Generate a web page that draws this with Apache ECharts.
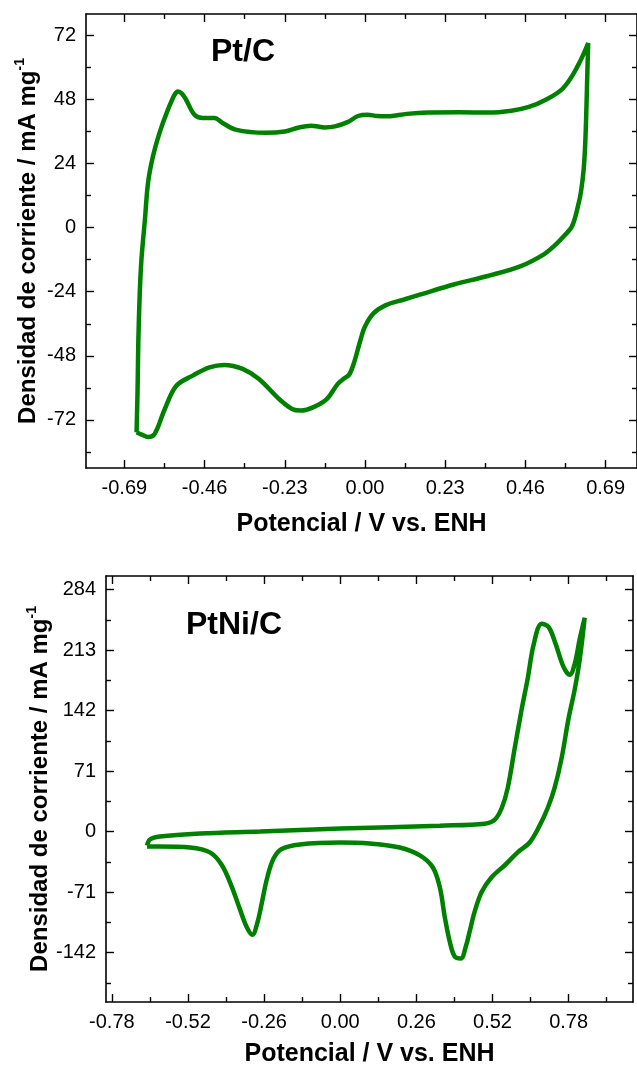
<!DOCTYPE html>
<html>
<head>
<meta charset="utf-8">
<script src="https://cdn.jsdelivr.net/npm/echarts@6/dist/echarts.min.js"></script>
<style>
html,body{margin:0;padding:0;background:#fff;}
#c{width:637px;height:1068px;}
</style>
</head>
<body>
<div id="c"></div>
<script>
// ---------- Pt/C (top panel) ----------
const ptcPotential = [-0.655,-0.652,-0.650,-0.646,-0.641,-0.631,-0.622,-0.608,-0.589,-0.565,-0.545,-0.536,-0.525,-0.513,-0.489,-0.465,-0.432,-0.408,-0.371,-0.286,-0.230,-0.190,-0.155,-0.115,-0.086,-0.050,-0.020,0.007,0.035,0.065,0.120,0.181,0.270,0.354,0.420,0.470,0.520,0.563,0.590,0.609,0.625,0.640,
  0.637,0.634,0.631,0.627,0.620,0.613,0.594,0.570,0.542,0.513,0.447,0.352,0.257,0.162,0.110,0.060,0.025,0.000,-0.015,-0.030,-0.045,-0.060,-0.078,-0.109,-0.146,-0.184,-0.209,-0.247,-0.304,-0.351,-0.403,-0.446,-0.494,-0.541,-0.574,-0.603,-0.622,-0.640,-0.655];
const ptcCurrent = [-76.6,-60,-42.9,-25,-11.9,3.1,16.9,26.7,35.6,44.2,50,51,50.2,47.9,42.3,41.1,41.1,39.2,36.7,35.5,36.0,37.5,38.2,37.5,37.9,39.5,41.8,42.3,41.8,41.7,42.6,43.1,43.2,43.1,43.8,45.2,48,51.6,56,60.3,64.5,69.1,
  55,40.4,30,21.7,14,9.3,0.6,-3.2,-6.9,-10.0,-14.4,-18.1,-21.2,-24.9,-27,-29,-32,-37,-43,-50,-55,-56.5,-58.5,-64.1,-67.1,-68.5,-67.9,-64.1,-56.7,-52.9,-51.4,-52.3,-55.4,-59.2,-67.9,-77.2,-78.4,-77.5,-76.6];
const ptcXTicks = [-0.69,-0.46,-0.23,0,0.23,0.46,0.69];
const ptcXMinor = [-0.575,-0.345,-0.115,0.115,0.345,0.575];
const ptcYTicks = [-72,-48,-24,0,24,48,72];
const ptcYMinor = [-84,-60,-36,-12,12,36,60];

// ---------- PtNi/C (bottom panel) ----------
const ptniPotential = [-0.660,-0.650,-0.616,-0.479,-0.274,0.000,0.340,0.494,0.528,0.552,0.572,0.596,0.620,0.640,0.661,0.688,0.712,0.736,0.763,0.784,0.801,0.818,0.835,
  0.818,0.801,0.780,0.756,0.732,0.709,0.681,0.647,0.606,0.562,0.517,0.483,0.459,0.442,0.429,0.412,0.391,0.374,0.357,0.340,0.316,0.272,0.203,0.101,0.000,-0.138,-0.200,-0.228,-0.250,-0.268,-0.283,-0.300,-0.320,-0.343,-0.370,-0.404,-0.445,-0.513,-0.616,-0.660];
const ptniCurrent = [-16.3,-9.3,-5.8,-2.3,0,3.5,7,9.3,14,28,51,98,144,179,220,244,240,220,193,184,197,226,251,
  202,167,133,86,51,28,7,-12.8,-24.4,-39.5,-53.5,-70.9,-94.2,-117.4,-134.9,-148.8,-146.5,-129,-100,-65.1,-41.9,-27.9,-18.6,-14,-12.8,-15.1,-20.5,-32,-55,-84,-107,-121,-111.6,-90.7,-65.1,-39.5,-24.4,-18.6,-17.4,-17.4];
const ptniXTicks = [-0.78,-0.52,-0.26,0,0.26,0.52,0.78];
const ptniXMinor = [-0.65,-0.39,-0.13,0.13,0.39,0.65,0.91];
const ptniYTicks = [-142,-71,0,71,142,213,284];
const ptniYMinor = [-177.5,-106.5,-35.5,35.5,106.5,177.5,248.5];

const xTitle = 'Potencial / V vs. ENH';
const yTitle = '{m|Densidad de corriente / mA mg}{s|-1}';
const labelTop = 'Pt/C';
const labelBottom = 'PtNi/C';

const FONT = '"Liberation Sans", Arial, sans-serif';
const GREEN = '#008000';

function pairs(xs, ys){ return xs.map((x,i)=>[x, ys[i]]); }

function makeAxes(grid, xmin, xmax, ymin, ymax, xMaj, xMin, yMaj, yMin, xGap, yGap){
  const line = {show:true, onZero:false, lineStyle:{color:'#000', width:1.6}};
  const noLine = {show:false, onZero:false};
  const tickMaj = vals => ({show:true, inside:true, length:8, customValues:vals, lineStyle:{color:'#000', width:1.4}});
  const tickMin = vals => ({show:true, inside:true, length:5, customValues:vals, lineStyle:{color:'#000', width:1.4}});
  const nameStyle = {fontFamily:FONT, fontSize:25, fontWeight:'bold', color:'#000'};
  const xs = [
    {gridIndex:grid, type:'value', min:xmin, max:xmax, position:'bottom', axisLine:line, axisTick:tickMaj(xMaj),
     axisLabel:{show:true, customValues:xMaj, formatter:v=>Number(v).toFixed(2), fontFamily:FONT, fontSize:20, color:'#000', margin:10},
     splitLine:{show:false}, name:xTitle, nameLocation:'middle', nameGap:xGap, nameMoveOverlap:false, nameTextStyle:nameStyle},
    {gridIndex:grid, type:'value', min:xmin, max:xmax, position:'bottom', axisLine:noLine, axisTick:tickMin(xMin), axisLabel:{show:false}, splitLine:{show:false}},
    {gridIndex:grid, type:'value', min:xmin, max:xmax, position:'top', axisLine:line, axisTick:tickMaj(xMaj), axisLabel:{show:false}, splitLine:{show:false}},
    {gridIndex:grid, type:'value', min:xmin, max:xmax, position:'top', axisLine:noLine, axisTick:tickMin(xMin), axisLabel:{show:false}, splitLine:{show:false}}
  ];
  const ys = [
    {gridIndex:grid, type:'value', min:ymin, max:ymax, position:'left', axisLine:line, axisTick:tickMaj(yMaj),
     axisLabel:{show:true, customValues:yMaj, formatter:v=>String(Math.round(v)), fontFamily:FONT, fontSize:20, color:'#000', margin:10},
     splitLine:{show:false}, name:yTitle, nameLocation:'middle', nameGap:yGap, nameMoveOverlap:false,
     nameTextStyle:{fontFamily:FONT, fontSize:25, fontWeight:'bold', color:'#000',
       rich:{m:{fontFamily:FONT, fontSize:24, fontWeight:'bold', color:'#000', lineHeight:30},
             s:{fontFamily:FONT, fontSize:14, fontWeight:'bold', color:'#000', verticalAlign:'top', lineHeight:15}}}},
    {gridIndex:grid, type:'value', min:ymin, max:ymax, position:'left', axisLine:noLine, axisTick:tickMin(yMin), axisLabel:{show:false}, splitLine:{show:false}},
    {gridIndex:grid, type:'value', min:ymin, max:ymax, position:'right', axisLine:line, axisTick:tickMaj(yMaj), axisLabel:{show:false}, splitLine:{show:false}},
    {gridIndex:grid, type:'value', min:ymin, max:ymax, position:'right', axisLine:noLine, axisTick:tickMin(yMin), axisLabel:{show:false}, splitLine:{show:false}}
  ];
  return {xs, ys};
}

const a0 = makeAxes(0, -0.80, 0.78, -90, 80, ptcXTicks, ptcXMinor, ptcYTicks, ptcYMinor, 44, 43);
const a1 = makeAxes(1, -0.80, 1.00, -200, 300, ptniXTicks, ptniXMinor, ptniYTicks, ptniYMinor, 40, 51);

const chart = echarts.init(document.getElementById('c'), null, {renderer:'canvas'});
chart.setOption({
  animation:false,
  backgroundColor:'#fff',
  grid:[
    {left:86, top:14, width:552, height:454},
    {left:106, top:576, width:527, height:430}
  ],
  xAxis: a0.xs.concat(a1.xs),
  yAxis: a0.ys.concat(a1.ys),
  graphic:[
    {type:'text', left:211, top:36, style:{text:labelTop, fontFamily:FONT, fontSize:32, fontWeight:'bold', fill:'#000'}},
    {type:'text', left:186, top:609, style:{text:labelBottom, fontFamily:FONT, fontSize:32, fontWeight:'bold', fill:'#000'}}
  ],
  series:[
    {type:'line', xAxisIndex:0, yAxisIndex:0, data:pairs(ptcPotential, ptcCurrent), smooth:0.35, showSymbol:false,
     lineStyle:{color:GREEN, width:4.5}, itemStyle:{color:GREEN}},
    {type:'line', xAxisIndex:4, yAxisIndex:4, data:pairs(ptniPotential, ptniCurrent), smooth:0.35, showSymbol:false,
     lineStyle:{color:GREEN, width:4.5}, itemStyle:{color:GREEN}}
  ]
});
</script>
</body>
</html>
